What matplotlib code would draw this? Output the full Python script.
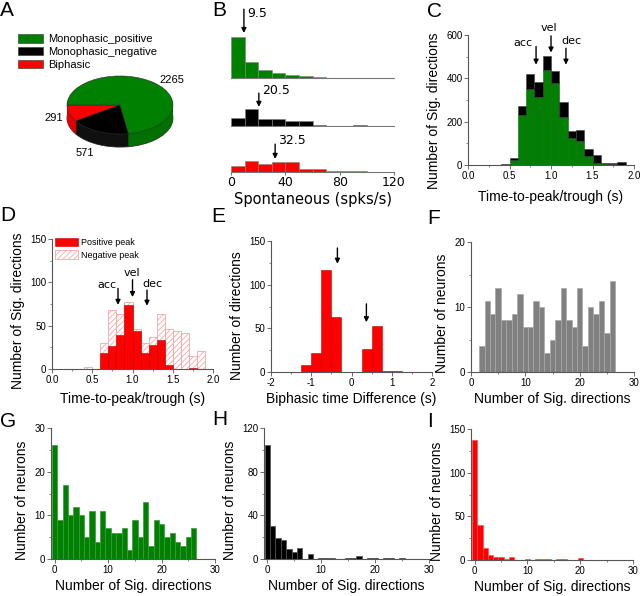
import matplotlib
matplotlib.use('Agg')
import matplotlib.pyplot as plt
import numpy as np
from matplotlib.ticker import AutoMinorLocator

plt.rcParams['font.family'] = ['Liberation Sans', 'DejaVu Sans']
plt.rcParams['axes.unicode_minus'] = False
plt.rcParams['hatch.linewidth'] = 0.6

# ---- data ----
# A: number of significant directions per response type
type_names = ['Monophasic_positive', 'Monophasic_negative', 'Biphasic']
type_counts = [2265, 571, 291]

# B: spontaneous rate histograms (bins of 10 spks/s, relative heights)
spont_left = [0, 10, 20, 30, 40, 50, 60, 70, 80, 90, 100, 110]
spont_pos = [122, 47, 25, 15, 10, 5, 2, 1, 0, 0, 0, 0]
spont_neg = [24, 50, 22, 22, 15, 15, 2, 1, 1, 2, 0, 0]
spont_bi = [17, 32, 24, 29, 31, 10, 10, 4, 2, 4, 0, 0]
spont_median = [9.5, 20.5, 32.5]

# C: time-to-peak/trough, bins of 0.1 s (left edges)
ttp_left = [0.4, 0.5, 0.6, 0.7, 0.8, 0.9, 1.0, 1.1, 1.2, 1.3, 1.4, 1.5, 1.6, 1.7, 1.8]
ttp_mono_pos = [2, 21, 233, 351, 312, 440, 378, 220, 126, 110, 41, 11, 3, 3, 2]
ttp_mono_neg = [3, 13, 38, 70, 69, 61, 57, 69, 30, 51, 34, 33, 8, 8, 13]
stim_marks = ['acc', 'vel', 'dec']
stim_times = [0.82, 1.0, 1.18]

# D: biphasic responses, positive and negative peak times
bi_pos_peak = [0, 0, 19, 27, 39, 74, 44, 19, 28, 33, 5, 0, 0, 1, 0]
bi_neg_peak = [2, 0, 30, 68, 63, 77, 46, 30, 37, 64, 46, 44, 42, 15, 21]

# E: biphasic time difference, bins of 0.25 s (left edges)
diff_left = [-1.25, -1.0, -0.75, -0.5, -0.25, 0.0, 0.25, 0.5, 0.75, 1.0]
diff_counts = [8, 22, 117, 63, 0, 0, 26, 53, 1, 1]
diff_marks = [-0.35, 0.37]

# F-I: number of neurons vs number of significant directions
f_ndir = list(range(2, 27))
f_counts = [4, 11, 9, 13, 8, 8, 9, 12, 7, 7, 11, 10, 3, 5, 8, 13, 8, 7, 13, 4, 10, 9, 11, 6, 14]
g_ndir = list(range(0, 27))
g_counts = [26, 9, 17, 10, 12, 10, 5, 11, 4, 11, 7, 6, 6, 7, 2, 9, 5, 13, 3, 9, 8, 5, 6, 4, 3, 5, 7]
h_ndir = list(range(0, 26))
h_counts = [104, 30, 19, 17, 9, 6, 10, 0, 5, 0, 1, 1, 1, 0, 0, 1, 1, 3, 0, 1, 1, 0, 1, 1, 0, 1]
i_ndir = list(range(0, 21))
i_counts = [137, 40, 14, 6, 4, 4, 1, 3, 0, 0, 1, 0, 1, 1, 1, 0, 1, 1, 0, 0, 2]

GREEN = '#008000'
RED = '#ff0000'

W, H = 640, 596
fig = plt.figure(figsize=(W / 100, H / 100), dpi=100)


def px_axes(left, right, top, bottom):
    return fig.add_axes([left / W, 1 - bottom / H, (right - left) / W, (bottom - top) / H])


def style(ax, minor=True):
    for s in ['top', 'right']:
        ax.spines[s].set_visible(False)
    for s in ['left', 'bottom']:
        ax.spines[s].set_color('#555555')
        ax.spines[s].set_linewidth(0.8)
    ax.tick_params(labelsize=7, length=3, width=0.6, pad=1, color='#555555')
    if minor:
        ax.xaxis.set_minor_locator(AutoMinorLocator(2))
        ax.yaxis.set_minor_locator(AutoMinorLocator(2))
        ax.tick_params(which='minor', length=1.5, width=0.5, color='#555555')


def labels(ax, xl, yl, xpad=3, ylab_y=0.45):
    ax.set_xlabel(xl, fontsize=10, labelpad=xpad)
    ax.set_ylabel(yl, fontsize=10, labelpad=4)
    # the labels sit a little below the middle of the y axis
    ax.yaxis.label.set_y(ylab_y)


def arrow(ax, x, y_tail, y_tip):
    ax.annotate('', xy=(x, y_tip), xytext=(x, y_tail),
                arrowprops=dict(arrowstyle='-|>', color='black', lw=1.0,
                                mutation_scale=7, shrinkA=0, shrinkB=0),
                annotation_clip=False)


def letter(x, y, s):
    fig.text(x / W, 1 - y / H, s, fontsize=15, va='top', ha='left')


# ---- A: pie ----
axA = px_axes(40, 200, 60, 170)
pie_vals = type_counts[::-1]
pie_cols = [RED, 'black', GREEN]
side_cols = ['#e00000', '#101010', '#007000']
for k in np.linspace(0.45, 0.02, 24):
    lw = 0.6 if k == 0.45 else 0
    axA.pie(pie_vals, colors=side_cols, startangle=180,
            center=(0, -k), wedgeprops=dict(linewidth=lw, edgecolor='#303030'))
wedges, _ = axA.pie(pie_vals, colors=pie_cols, startangle=180,
                    wedgeprops=dict(edgecolor='#303030', linewidth=0.4))
axA.set_aspect('auto')
axA.set_xlim(-1.51, 1.51)
axA.set_ylim(-2.24, 1.55)
axA.text(0.98, 0.86, str(type_counts[0]), fontsize=8, ha='center', va='center')
axA.text(-1.25, -0.45, str(type_counts[2]), fontsize=8, ha='center', va='center')
axA.text(-0.66, -1.66, str(type_counts[1]), fontsize=8, ha='center', va='center')
fig.legend(wedges[::-1], type_names, loc='upper left', bbox_to_anchor=(18 / W, 1 - 34 / H),
           frameon=False, fontsize=8, handlelength=2.25, handleheight=0.8,
           handletextpad=0.45, labelspacing=0.25, borderpad=0, borderaxespad=0)

# ---- B: spontaneous histograms ----
b_sets = [(spont_pos, GREEN, 78), (spont_neg, 'black', 126), (spont_bi, RED, 172)]
arrow_y = [(205, 134, 193), (98, 57, 107), (83, 39, 95)]
for i, ((vals, col, base), med, (yt, yh, ytx)) in enumerate(zip(b_sets, spont_median, arrow_y)):
    ax = px_axes(231, 394, base - 45, base)
    ax.bar(spont_left, vals, width=10, align='edge', color=col, edgecolor='#808080', linewidth=0.4)
    ax.set_xlim(0, 120)
    ax.set_ylim(0, 134)
    for s in ['top', 'right', 'left']:
        ax.spines[s].set_visible(False)
    ax.spines['bottom'].set_color('#777777')
    ax.set_yticks([])
    arrow(ax, med, yt, yh)
    ax.text(med + 2.3, ytx, f'{med}', fontsize=9, family='DejaVu Sans', va='center', ha='left')
    if i < 2:
        ax.set_xticks([])
    else:
        ax.set_xticks([0, 40, 80, 120])
        ax.tick_params(labelsize=9, length=2, pad=1, color='#777777')
        for t in ax.get_xticklabels():
            t.set_family('DejaVu Sans')
        ax.set_xlabel('Spontaneous (spks/s)', family='DejaVu Sans', fontsize=10.5, labelpad=2)

# ---- C: stacked time-to-peak ----
axC = px_axes(468, 634, 35, 165)
axC.bar(ttp_left, ttp_mono_pos, width=0.1, align='edge', color=GREEN, edgecolor='#1c5c1c', linewidth=0.4)
axC.bar(ttp_left, ttp_mono_neg, bottom=ttp_mono_pos, width=0.1, align='edge',
        color='black', edgecolor='#404040', linewidth=0.4)
axC.set_xlim(0, 2)
axC.set_ylim(0, 600)
axC.set_xticks([0, 0.5, 1.0, 1.5, 2.0])
axC.set_yticks([0, 200, 400, 600])
style(axC)
labels(axC, 'Time-to-peak/trough (s)', 'Number of Sig. directions', xpad=7, ylab_y=0.42)
for m, t, (yt, yh, tx, ty) in zip(stim_marks, stim_times,
                                  [(547, 463, 0.66, 562), (596, 519, 0.97, 631), (539, 463, 1.25, 570)]):
    arrow(axC, t, yt, yh)
    axC.text(tx, ty, m, fontsize=8, family='DejaVu Sans', ha='center', va='center')

# ---- D: biphasic peaks ----
axD = px_axes(52, 213, 239, 369)
axD.bar(ttp_left, bi_neg_peak, width=0.1, align='edge', color='white',
        edgecolor='#f4a6a6', hatch='//////', linewidth=0.6, label='Negative peak')
axD.bar(ttp_left, bi_pos_peak, width=0.1, align='edge', color=RED,
        edgecolor='#c00000', linewidth=0.4, label='Positive peak')
axD.set_xlim(0, 2)
axD.set_ylim(0, 150)
axD.set_xticks([0, 0.5, 1.0, 1.5, 2.0])
axD.set_yticks([0, 50, 100, 150])
style(axD)
labels(axD, 'Time-to-peak/trough (s)', 'Number of Sig. directions', xpad=5, ylab_y=0.45)
for m, t, (yt, yh, tx, ty) in zip(stim_marks, stim_times,
                                  [(93, 74, 0.68, 97), (103, 83, 0.99, 111), (91, 73, 1.25, 98)]):
    arrow(axD, t, yt, yh)
    axD.text(tx, ty, m, fontsize=8, family='DejaVu Sans', ha='center', va='center')
hd, lb = axD.get_legend_handles_labels()
axD.legend(hd[::-1], lb[::-1], loc='upper left', bbox_to_anchor=(3 / 161, 1.01), frameon=False,
           fontsize=6.5, handlelength=2.6, handleheight=1.1, handletextpad=0.3,
           labelspacing=0.35, borderpad=0, borderaxespad=0)

# ---- E: biphasic time difference ----
axE = px_axes(271, 432, 241, 372)
axE.bar(diff_left, diff_counts, width=0.25, align='edge', color=RED, edgecolor='#c00000', linewidth=0.4)
axE.set_xlim(-2, 2)
axE.set_ylim(0, 150)
axE.set_xticks([-2, -1, 0, 1, 2])
axE.set_yticks([0, 50, 100, 150])
style(axE)
labels(axE, 'Biphasic time Difference (s)', 'Number of directions', ylab_y=0.43)
arrow(axE, diff_marks[0], 142, 124)
arrow(axE, diff_marks[1], 78, 57)

# ---- F-I: neuron counts ----
panels = [
    ((471, 634, 242, 372), f_ndir, f_counts, '#808080', '#a8a8a8', (0, 30), (0, 20), [0, 10, 20]),
    ((51, 215, 428, 559), g_ndir, g_counts, GREEN, '#3a9a3a', (-0.7, 30), (0, 30), [0, 10, 20, 30]),
    ((264, 429, 428, 559), h_ndir, h_counts, 'black', '#505050', (-0.6, 30), (0, 120), [0, 40, 80, 120]),
    ((471, 633, 429, 560), i_ndir, i_counts, RED, '#ff5050', (-0.7, 30), (0, 150), [0, 50, 100, 150]),
]
for (l, r, t, b), nd, cnt, fc, ec, xl, yl, yt in panels:
    ax = px_axes(l, r, t, b)
    ax.bar(nd, cnt, width=1.0, color=fc, edgecolor=ec, linewidth=0.5)
    ax.set_xlim(*xl)
    ax.set_ylim(*yl)
    ax.set_xticks([0, 10, 20, 30])
    ax.set_yticks(yt)
    style(ax)
    labels(ax, 'Number of Sig. directions', 'Number of neurons', ylab_y=0.45)

# panel letters
for x, y, s in [(0, 1, 'A'), (212, 1, 'B'), (427, 2, 'C'), (0, 206, 'D'), (211, 207, 'E'),
                (427, 209, 'F'), (0, 412, 'G'), (212, 410, 'H'), (427, 412, 'I')]:
    letter(x, y, s)

fig.savefig('out.png', dpi=100)
